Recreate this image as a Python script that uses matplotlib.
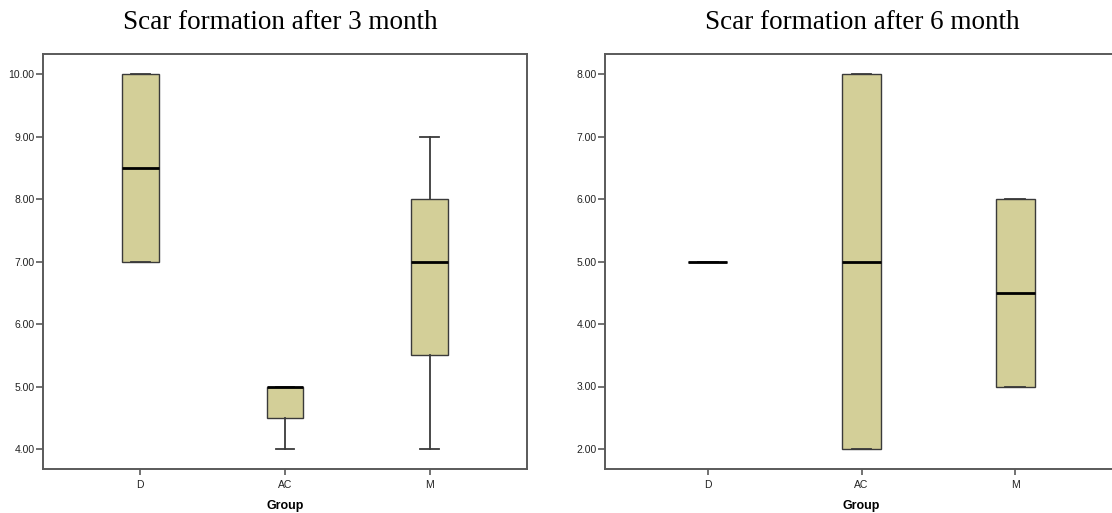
import matplotlib
matplotlib.use("Agg")
import matplotlib.pyplot as plt

groups = ["D", "AC", "M"]

# 3 months
m3_whislo = [7.0, 4.0, 4.0]
m3_q1 = [7.0, 4.5, 5.5]
m3_med = [8.5, 5.0, 7.0]
m3_q3 = [10.0, 5.0, 8.0]
m3_whishi = [10.0, 5.0, 9.0]
m3_ticks = [4.0, 5.0, 6.0, 7.0, 8.0, 9.0, 10.0]

# 6 months
m6_whislo = [5.0, 2.0, 3.0]
m6_q1 = [5.0, 2.0, 3.0]
m6_med = [5.0, 5.0, 4.5]
m6_q3 = [5.0, 8.0, 6.0]
m6_whishi = [5.0, 8.0, 6.0]
m6_ticks = [2.0, 3.0, 4.0, 5.0, 6.0, 7.0, 8.0]

titles = ["Scar formation after 3 month", "Scar formation after 6 month"]

W, H = 1112, 513
fig = plt.figure(figsize=(W / 100, H / 100), dpi=100)

fill = "#D3CF98"
edge = "#3a3a3a"
spine_c = "#5a5a5a"

def panel(rect, lo, q1, med, q3, hi, ticks, title, title_x):
    ax = fig.add_axes([rect[0] / W, (H - rect[3]) / H, (rect[2] - rect[0]) / W, (rect[3] - rect[1]) / H])
    stats = []
    for i, g in enumerate(groups):
        stats.append(dict(label=g, whislo=lo[i], q1=q1[i], med=med[i], q3=q3[i], whishi=hi[i], fliers=[]))
    ax.bxp(stats, positions=range(len(groups)), widths=0.255, patch_artist=True, showfliers=False,
           boxprops=dict(facecolor=fill, edgecolor=edge, linewidth=1.0),
           medianprops=dict(color="black", linewidth=2.0),
           whiskerprops=dict(color=edge, linewidth=1.3),
           capprops=dict(color=edge, linewidth=1.3),
           capwidths=0.13)
    ax.set_xlim(-0.67, 2.67)
    ax.set_ylim(ticks[0] - 0.32, ticks[-1] + 0.32)
    ax.set_yticks(ticks)
    ax.set_yticklabels([f"{t:.2f}" for t in ticks], fontsize=7.5, color="#222222", family="Liberation Sans")
    ax.set_xticks(range(len(groups)))
    ax.set_xticklabels(groups, fontsize=7.5, color="#222222", family="Liberation Sans")
    ax.tick_params(axis="y", direction="out", length=5, width=1.2, color=spine_c, pad=1)
    ax.tick_params(axis="x", direction="out", length=4, width=1.2, color=spine_c, pad=4)
    for s in ax.spines.values():
        s.set_color(spine_c)
        s.set_linewidth(1.4)
    ax.set_xlabel("Group", fontsize=9, fontweight="bold", family="Liberation Sans", labelpad=7)
    fig.text(title_x / W, 1 - 23 / H, title, ha="center", va="center", fontsize=19.5, family="Liberation Serif")
    return ax

panel((43, 54, 527, 469), m3_whislo, m3_q1, m3_med, m3_q3, m3_whishi, m3_ticks, titles[0], 280)
panel((605, 54, 1118, 469), m6_whislo, m6_q1, m6_med, m6_q3, m6_whishi, m6_ticks, titles[1], 862)

fig.savefig("out.png", dpi=100)
